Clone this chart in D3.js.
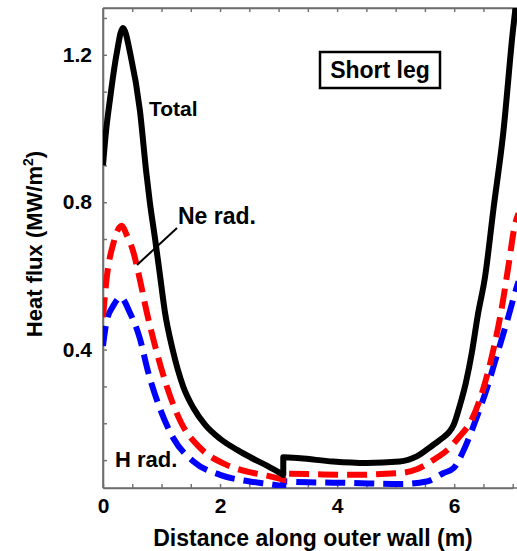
<!DOCTYPE html>
<html>
<head>
<meta charset="utf-8">
<script src="https://cdn.jsdelivr.net/npm/d3@7"></script>
<style>
  html, body { margin: 0; padding: 0; background: #fff; }
  svg { display: block; }
  text { font-family: "Liberation Sans", Arial, sans-serif; font-weight: bold; fill: #000; }
</style>
</head>
<body>
<svg id="chart" width="517" height="551"></svg>
<script>
// ---- data ----
// each series: segment before the step at x≈3.08 m and segment after it
const totalX1 = [0, 0.05, 0.12, 0.23, 0.34, 0.47, 0.63, 0.74, 0.8, 0.89, 0.975, 1.06, 1.19, 1.37, 1.55, 1.75, 2.0, 2.3, 2.55, 2.8, 3.08];
const totalY1 = [0.90, 0.99, 1.08, 1.2, 1.273, 1.2, 1.05, 0.88, 0.80, 0.70, 0.60, 0.50, 0.40, 0.30, 0.24, 0.195, 0.158, 0.127, 0.105, 0.085, 0.06];
const totalX2 = [3.08, 3.37, 3.93, 4.5, 5.07, 5.36, 5.64, 5.76, 5.99, 6.1, 6.2, 6.3, 6.4, 6.53, 6.67, 6.84, 7.0, 7.1];
const totalY2 = [0.108, 0.105, 0.096, 0.092, 0.096, 0.11, 0.141, 0.155, 0.195, 0.25, 0.31, 0.39, 0.49, 0.6, 0.78, 0.99, 1.26, 1.40];

const neX1 = [0, 0.06, 0.18, 0.32, 0.4, 0.52, 0.63, 0.75, 0.89, 1.09, 1.34, 1.66, 2.11, 2.57, 2.85, 3.08];
const neY1 = [0.488, 0.59, 0.69, 0.736, 0.713, 0.664, 0.59, 0.50, 0.41, 0.30, 0.20, 0.133, 0.087, 0.065, 0.056, 0.047];
const neX2 = [3.08, 3.5, 4.22, 5.07, 5.36, 5.64, 5.9, 6.07, 6.3, 6.5, 6.67, 6.81, 6.93, 7.04, 7.1];
const neY2 = [0.063, 0.062, 0.06, 0.065, 0.075, 0.1, 0.13, 0.16, 0.21, 0.295, 0.40, 0.51, 0.63, 0.74, 0.77];

const hX1 = [0, 0.06, 0.18, 0.3, 0.46, 0.63, 0.77, 0.95, 1.2, 1.54, 2.0, 2.51, 2.85, 3.08];
const hY1 = [0.41, 0.475, 0.52, 0.542, 0.50, 0.43, 0.34, 0.25, 0.16, 0.097, 0.06, 0.042, 0.035, 0.029];
const hX2 = [3.08, 3.5, 4.22, 5.07, 5.53, 5.82, 5.99, 6.18, 6.38, 6.56, 6.73, 6.9, 7.07, 7.1];
const hY2 = [0.042, 0.04, 0.038, 0.035, 0.042, 0.065, 0.078, 0.133, 0.214, 0.295, 0.385, 0.475, 0.57, 0.585];

const xTicks = [0, 0.5, 1, 1.5, 2, 2.5, 3, 3.5, 4, 4.5, 5, 5.5, 6, 6.5, 7];
const xTickLabels = [0, 2, 4, 6];
const yTicks = [0.1, 0.2, 0.3, 0.4, 0.5, 0.6, 0.7, 0.8, 0.9, 1.0, 1.1, 1.2, 1.3];
const yTickLabels = [0.4, 0.8, 1.2];

const xTitle = "Distance along outer wall (m)";
const yTitle = "Heat flux (MW/m";
const boxLabel = "Short leg";

// ---- layout ----
const W = 517, H = 551;
const mLeft = 103, mTop = 8, mBottom = 488;
const svg = d3.select("#chart");
svg.append("rect").attr("width", W).attr("height", H).attr("fill", "#fff");

const x = d3.scaleLinear().domain([0, 7]).range([mLeft, 512.7]);
const y = d3.scaleLinear().domain([0.0243, 1.327]).range([mBottom, mTop]);

svg.append("defs").append("clipPath").attr("id", "clip")
  .append("rect").attr("x", mLeft).attr("y", mTop).attr("width", W - mLeft).attr("height", mBottom - mTop);

const axisColor = "#6e6e6e";
function styleAxis(g) {
  g.selectAll(".domain").attr("stroke", axisColor).attr("stroke-width", 1.6);
  g.selectAll(".tick line").attr("stroke", axisColor).attr("stroke-width", 1.4);
  g.selectAll("text").attr("font-family", "Liberation Sans, Arial, sans-serif")
    .attr("font-weight", "bold").attr("font-size", 21).attr("fill", "#000");
}

// bottom axis
svg.append("g").attr("transform", `translate(0,${mBottom})`)
  .call(d3.axisBottom(x).tickValues(xTicks).tickSizeInner(-4).tickSizeOuter(0).tickPadding(10)
    .tickFormat(d => xTickLabels.includes(d) ? d3.format("d")(d) : ""))
  .call(styleAxis);
// top axis
svg.append("g").attr("transform", `translate(0,${mTop})`)
  .call(d3.axisTop(x).tickValues(xTicks.filter(d => d > 0)).tickSizeInner(-4).tickSizeOuter(0).tickFormat(""))
  .call(styleAxis);
// left axis
svg.append("g").attr("transform", `translate(${mLeft},0)`)
  .call(d3.axisLeft(y).tickValues(yTicks).tickSizeInner(-4).tickSizeOuter(0).tickPadding(11)
    .tickFormat(d => yTickLabels.some(v => Math.abs(v - d) < 1e-9) ? d3.format(".1f")(d) : ""))
  .call(styleAxis);
// frame lines (left, top, bottom) running to the window edge
svg.append("line").attr("x1", mLeft).attr("x2", W).attr("y1", mTop).attr("y2", mTop)
  .attr("stroke", axisColor).attr("stroke-width", 1.6);
svg.append("line").attr("x1", mLeft).attr("x2", W).attr("y1", mBottom).attr("y2", mBottom)
  .attr("stroke", axisColor).attr("stroke-width", 1.6);
svg.append("line").attr("x1", mLeft).attr("x2", mLeft).attr("y1", mTop).attr("y2", mBottom)
  .attr("stroke", axisColor).attr("stroke-width", 1.6);

// ---- curves ----
const line = d3.line().x(d => x(d[0])).y(d => y(d[1])).curve(d3.curveMonotoneX);
function pathFor(xs1, ys1, xs2, ys2) {
  const a = line(xs1.map((v, i) => [v, ys1[i]]));
  const b = line(xs2.map((v, i) => [v, ys2[i]]));
  return a + "L" + b.slice(1);
}
const plot = svg.append("g").attr("clip-path", "url(#clip)");
plot.append("path").attr("d", pathFor(hX1, hY1, hX2, hY2))
  .attr("fill", "none").attr("stroke", "#0000ff").attr("stroke-width", 6)
  .attr("stroke-dasharray", "20,9");
plot.append("path").attr("d", pathFor(neX1, neY1, neX2, neY2))
  .attr("fill", "none").attr("stroke", "#ff0000").attr("stroke-width", 6)
  .attr("stroke-dasharray", "20,9");
plot.append("path").attr("d", pathFor(totalX1, totalY1, totalX2, totalY2))
  .attr("fill", "none").attr("stroke", "#000").attr("stroke-width", 6)
  .attr("stroke-linejoin", "round");

// ---- annotations ----
svg.append("text").attr("x", 149).attr("y", 116).attr("font-size", 21).text("Total");
svg.append("text").attr("x", 178).attr("y", 224).attr("font-size", 23).text("Ne rad.");
svg.append("line").attr("x1", 177).attr("y1", 228).attr("x2", 137).attr("y2", 265)
  .attr("stroke", "#000").attr("stroke-width", 2);
svg.append("text").attr("x", 115).attr("y", 467).attr("font-size", 22).text("H rad.");

// box label
svg.append("rect").attr("x", 320).attr("y", 52).attr("width", 120).attr("height", 36)
  .attr("fill", "#fff").attr("stroke", "#000").attr("stroke-width", 2.5);
svg.append("text").attr("x", 380).attr("y", 78).attr("text-anchor", "middle")
  .attr("font-size", 23).text(boxLabel);

// axis titles
svg.append("text").attr("x", 313).attr("y", 546).attr("text-anchor", "middle")
  .attr("font-size", 23).text(xTitle);
const yt = svg.append("text").attr("transform", "translate(42,244) rotate(-90)")
  .attr("text-anchor", "middle").attr("font-size", 22);
yt.append("tspan").text(yTitle);
yt.append("tspan").attr("font-size", 14).attr("dy", -9).text("2");
yt.append("tspan").attr("dy", 9).text(")");
</script>
</body>
</html>
